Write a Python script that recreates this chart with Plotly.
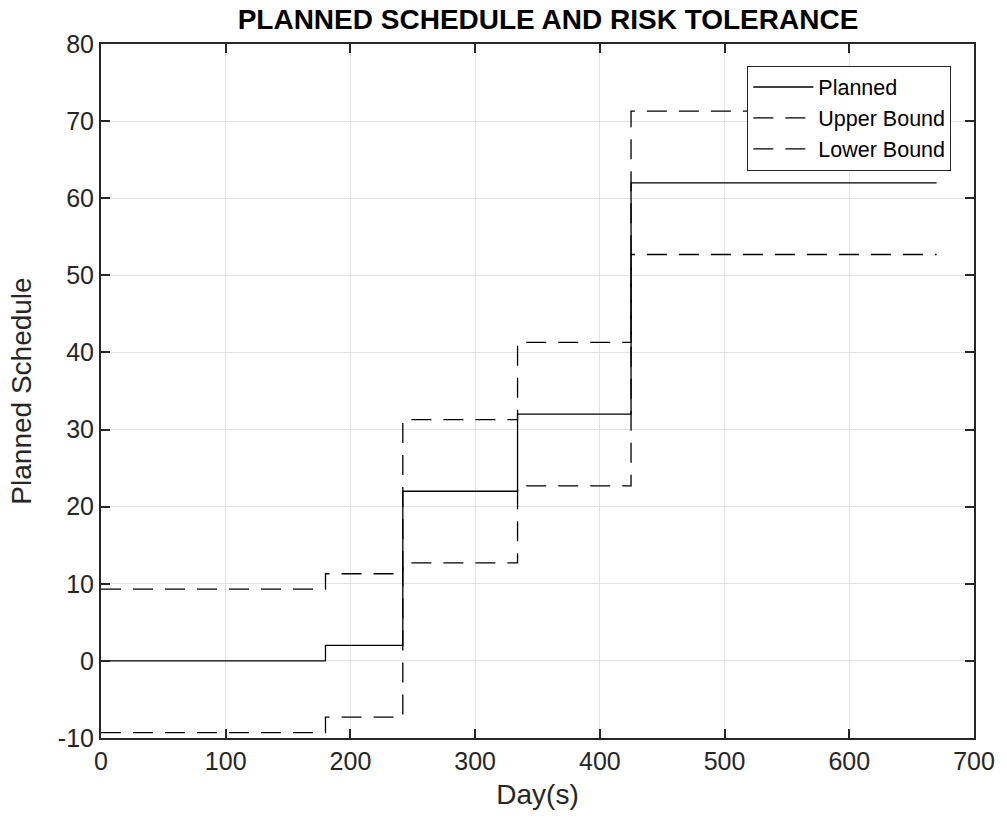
import plotly.graph_objects as go

days = [0, 180, 242, 334, 425, 670]
planned = [0, 2, 22, 32, 62, 62]
upper = [9.3, 11.3, 31.3, 41.3, 71.3, 71.3]
lower = [-9.3, -7.3, 12.7, 22.7, 52.7, 52.7]

x_ticks = [0, 100, 200, 300, 400, 500, 600, 700]
y_ticks = [-10, 0, 10, 20, 30, 40, 50, 60, 70, 80]

FONT = "Liberation Sans, Arial, sans-serif"
AX = "#262626"

fig = go.Figure()
fig.add_trace(go.Scatter(x=days, y=planned, mode="lines", name="Planned",
                         line=dict(color="black", width=1.3, shape="hv")))
fig.add_trace(go.Scatter(x=days, y=upper, mode="lines", name="Upper Bound",
                         line=dict(color="black", width=1.3, shape="hv", dash="20px,12px")))
fig.add_trace(go.Scatter(x=days, y=lower, mode="lines", name="Lower Bound",
                         line=dict(color="black", width=1.3, shape="hv", dash="20px,12px")))

axis_common = dict(showgrid=True, gridcolor="#e3e3e3", gridwidth=1,
                   showline=True, linecolor=AX, linewidth=2, mirror="ticks",
                   ticks="inside", ticklen=9, tickcolor=AX, tickwidth=1.5,
                   zeroline=False, tickfont=dict(family=FONT, size=25, color=AX))

fig.update_xaxes(range=[0, 700], tickvals=x_ticks, ticktext=[str(v) for v in x_ticks],
                 title=dict(text="Day(s)", font=dict(family=FONT, size=28, color=AX), standoff=10),
                 **axis_common)
fig.update_yaxes(range=[-10, 80], tickvals=y_ticks, ticktext=[str(v) for v in y_ticks],
                 title=dict(text="Planned Schedule", font=dict(family=FONT, size=28, color=AX), standoff=18),
                 **axis_common)

fig.update_layout(
    width=1007, height=824,
    margin=dict(l=101, r=25, t=44, b=86),
    paper_bgcolor="white", plot_bgcolor="white",
    title=dict(text="<b>PLANNED SCHEDULE AND RISK TOLERANCE</b>", x=548 / 1007, xanchor="center",
               y=1 - 19 / 824, yanchor="middle",
               font=dict(family=FONT, size=28, color="black")),
    legend=dict(x=0.974, xanchor="right", y=0.969, yanchor="top",
                bgcolor="white", bordercolor=AX, borderwidth=1,
                font=dict(family=FONT, size=21.5, color="black"),
                tracegroupgap=0, itemwidth=60),
    showlegend=True,
)

fig.write_html("out.html")
